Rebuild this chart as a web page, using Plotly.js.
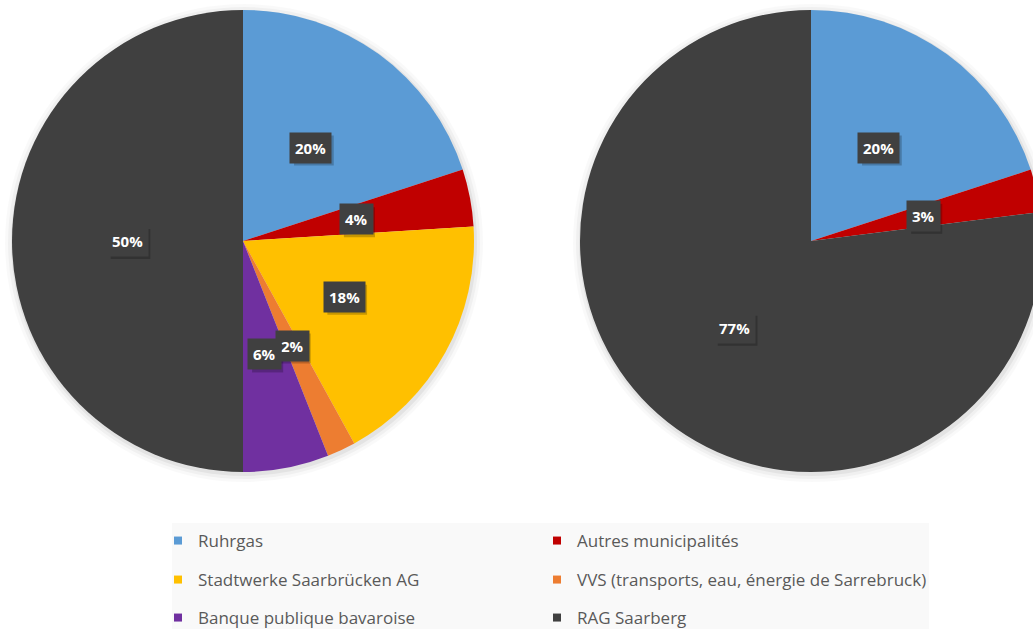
<!DOCTYPE html>
<html>
<head>
<meta charset="utf-8">
<script src="https://cdn.plot.ly/plotly-3.0.1.min.js"></script>
<style>
  html, body { margin: 0; padding: 0; background: #ffffff; overflow: hidden; }
  #chart { width: 1060px; height: 629px; }
</style>
</head>
<body>
<div id="chart"></div>
<script>
// ---- data ----
const categories = ['Ruhrgas', 'Autres municipalités', 'Stadtwerke Saarbrücken AG',
  'VVS (transports, eau, énergie de Sarrebruck)', 'Banque publique bavaroise', 'RAG Saarberg'];
const categoryColors = ['#5B9BD5', '#C00000', '#FFC000', '#ED7D31', '#7030A0', '#404040'];

const leftLabels = ['Ruhrgas', 'Autres municipalités', 'Stadtwerke Saarbrücken AG',
  'VVS (transports, eau, énergie de Sarrebruck)', 'Banque publique bavaroise', 'RAG Saarberg'];
const leftValues = [20, 4, 18, 2, 6, 50];

const rightLabels = ['Ruhrgas', 'Autres municipalités', 'RAG Saarberg'];
const rightValues = [20, 3, 77];

// ---- layout geometry (pixels) ----
const W = 1060, H = 629;
const R = 231;
const pies = [
  { cx: 243, cy: 241, labels: leftLabels, values: leftValues },
  { cx: 811, cy: 241, labels: rightLabels, values: rightValues }
];

function colorFor(l) { return categoryColors[categories.indexOf(l)]; }

const traces = [];
const annotations = [];
const shapes = [{
  type: 'rect', xref: 'paper', yref: 'paper', layer: 'below',
  x0: 172 / W, x1: 929 / W, y0: 0, y1: 1 - 523 / H,
  fillcolor: '#F9F9F9', line: { width: 0 }
}];

pies.forEach(p => {
  // soft shadow around the pie
  [[8, 'rgba(0,0,0,0.025)'], [5, 'rgba(0,0,0,0.035)'], [2, 'rgba(0,0,0,0.05)']].forEach(s => {
    shapes.push({
      type: 'circle', xref: 'paper', yref: 'paper', layer: 'below',
      x0: (p.cx - R - s[0] + 1) / W, x1: (p.cx + R + s[0] + 1) / W,
      y0: 1 - (p.cy + R + s[0] + 2) / H, y1: 1 - (p.cy - R - s[0] + 2) / H,
      fillcolor: s[1], line: { width: 0 }
    });
  });
  traces.push({
    type: 'pie',
    labels: p.labels,
    values: p.values,
    sort: false,
    direction: 'clockwise',
    rotation: 0,
    textinfo: 'none',
    hoverinfo: 'label+percent',
    showlegend: false,
    marker: { colors: p.labels.map(colorFor), line: { width: 0 } },
    domain: {
      x: [(p.cx - R) / W, (p.cx + R) / W],
      y: [1 - (p.cy + R) / H, 1 - (p.cy - R) / H]
    }
  });
  const total = p.values.reduce((a, b) => a + b, 0);
  let cum = 0;
  p.values.forEach(v => {
    const mid = (cum + v / 2) / total * 2 * Math.PI;
    cum += v;
    const px = p.cx + 0.5 * R * Math.sin(mid);
    const py = p.cy - 0.5 * R * Math.cos(mid);
    const txt = Math.round(v / total * 100) + '%';
    const bw = 8.6 * (txt.length - 1) + 12.5 + 10, bh = 30;
    // label box shadow
    shapes.push({
      type: 'rect', xref: 'paper', yref: 'paper', layer: 'above',
      x0: (px - bw / 2 + 3) / W, x1: (px + bw / 2 + 3) / W,
      y0: 1 - (py + bh / 2 + 3) / H, y1: 1 - (py - bh / 2 + 3) / H,
      fillcolor: 'rgba(0,0,0,0.22)', line: { width: 0 }
    });
    annotations.push({
      xref: 'paper', yref: 'paper',
      x: px / W, y: 1 - py / H,
      xanchor: 'center', yanchor: 'middle',
      showarrow: false,
      text: txt,
      font: { family: 'Open Sans', size: 15, color: '#ffffff', weight: 'bold' },
      bgcolor: '#404040',
      borderpad: 5
    });
  });
});

// legend: one legend per entry, two columns, three rows
const legendCol = [158, 537];
const legendRow = [541, 580, 618];
const layoutLegends = {};
categories.forEach((c, i) => {
  const key = i === 0 ? 'legend' : 'legend' + (i + 1);
  traces.push({
    type: 'scatter', mode: 'markers',
    x: [null], y: [null],
    name: c,
    legend: key,
    showlegend: true,
    hoverinfo: 'skip',
    marker: { symbol: 'square', size: 8, color: categoryColors[i], line: { width: 0 } }
  });
  layoutLegends[key] = {
    orientation: 'h',
    bgcolor: 'rgba(0,0,0,0)',
    borderwidth: 0,
    font: { family: 'Open Sans', size: 17, color: '#595959' },
    xref: 'container', yref: 'container',
    x: legendCol[i % 2] / W, xanchor: 'left',
    y: 1 - legendRow[Math.floor(i / 2)] / H, yanchor: 'middle',
    itemclick: false, itemdoubleclick: false
  };
});

const layout = Object.assign({
  width: W, height: H,
  margin: { l: 0, r: 0, t: 0, b: 0, autoexpand: false },
  paper_bgcolor: '#ffffff',
  plot_bgcolor: 'rgba(0,0,0,0)',
  showlegend: true,
  xaxis: { visible: false, range: [0, 1] },
  yaxis: { visible: false, range: [0, 1] },
  annotations: annotations,
  shapes: shapes
}, layoutLegends);

Plotly.newPlot('chart', traces, layout, { staticPlot: true, displayModeBar: false });
</script>
</body>
</html>
